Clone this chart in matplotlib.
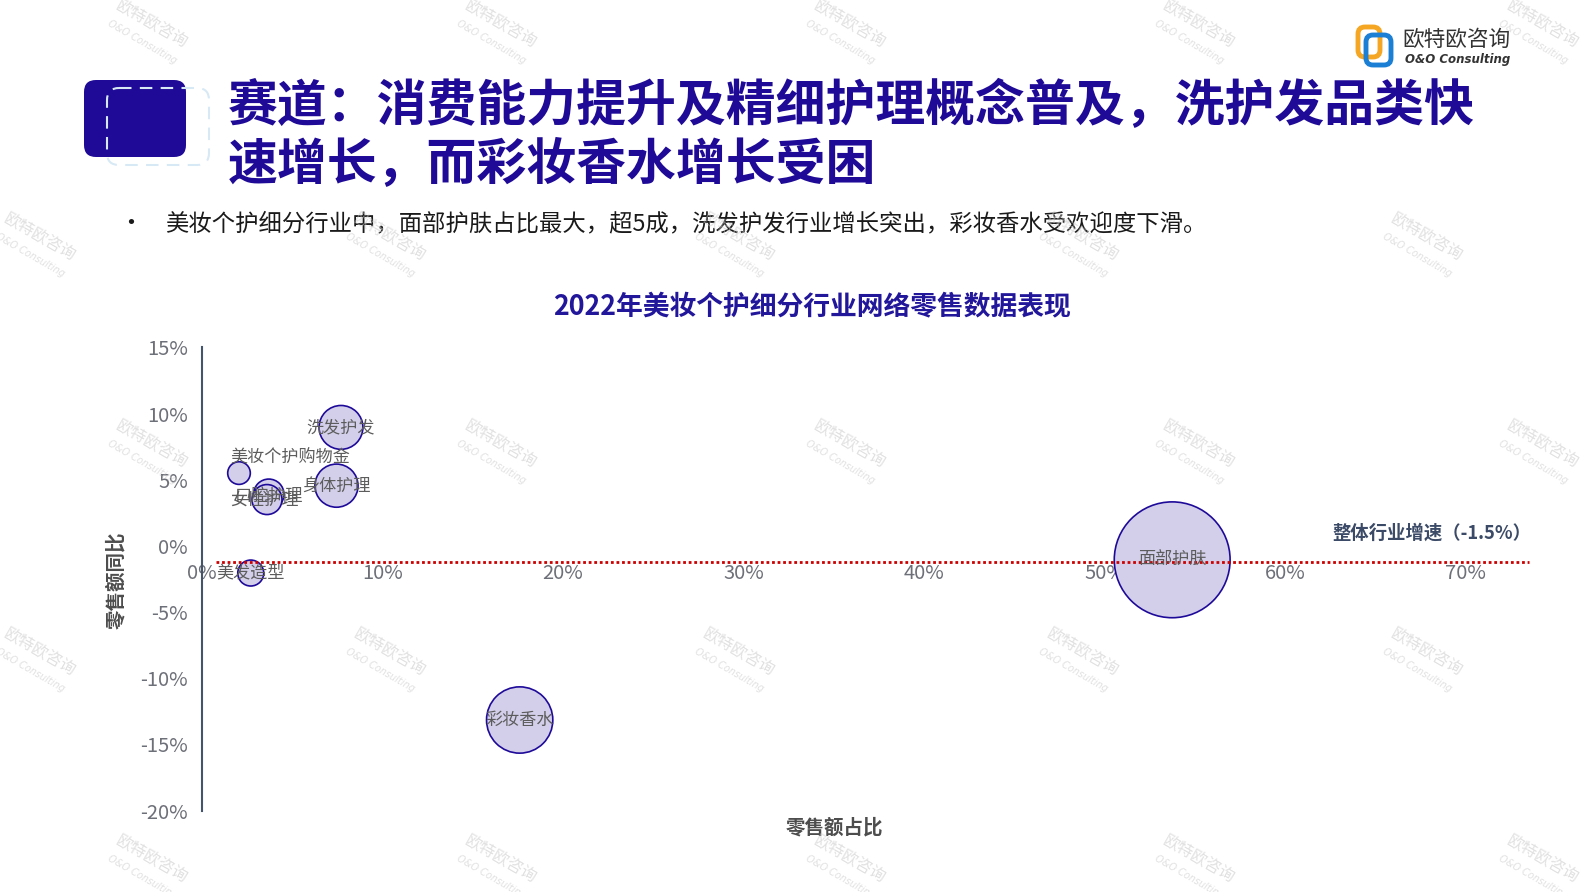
import numpy as np
import matplotlib
matplotlib.use('Agg')
import matplotlib.pyplot as plt
from matplotlib.patches import FancyBboxPatch
from matplotlib.ticker import FuncFormatter

plt.rcParams['font.family'] = ['Noto Sans CJK SC', 'DejaVu Sans']

# ---------------- data ----------------
categories = ['面部护肤', '彩妆香水', '洗发护发', '身体护理', '美妆个护购物金', '口腔护理', '女性护理', '美发造型']
share = [53.75, 17.6, 7.7, 7.45, 2.05, 3.7, 3.6, 2.7]        # 零售额占比 (%)
growth = [-1.05, -13.15, 8.95, 4.55, 5.5, 3.9, 3.5, -2.05]  # 零售额同比 (%)
overall_growth = -1.2                                       # 整体行业增速 line position
overall_label = '整体行业增速（-1.5%）'
x_ticks = [0, 10, 20, 30, 40, 50, 60, 70]
y_ticks = [-20, -15, -10, -5, 0, 5, 10, 15]

title = ['赛道：消费能力提升及精细护理概念普及，洗护发品类快', '速增长，而彩妆香水增长受困']
bullet = '美妆个护细分行业中，面部护肤占比最大，超5成，洗发护发行业增长突出，彩妆香水受欢迎度下滑。'
chart_title = '2022年美妆个护细分行业网络零售数据表现'

W, H = 1587, 892
NAVY = '#1e0a96'
fig = plt.figure(figsize=(W / 100, H / 100), dpi=100)


def fx(x):
    return x / W


def fy(y):
    return 1 - y / H


# ---------------- header decoration ----------------
deco = fig.add_axes([0, 0, 1, 1], zorder=0)
deco.set_xlim(0, W)
deco.set_ylim(H, 0)
deco.axis('off')
deco.add_patch(FancyBboxPatch((84 + 12, 80 + 12), 102 - 24, 77 - 24,
                              boxstyle='round,pad=12', fc=NAVY, ec='none'))
deco.add_patch(FancyBboxPatch((107 + 12, 88 + 12), 102 - 24, 77 - 24,
                              boxstyle='round,pad=12', fc='none', ec='#d8e9f6',
                              lw=1.5, ls=(0, (6, 4))))

# logo
deco.add_patch(FancyBboxPatch((1360, 29), 18, 26, boxstyle='round,pad=2,rounding_size=7',
                              fc='none', ec='#f5a623', lw=3.5))
deco.add_patch(FancyBboxPatch((1368, 37), 21, 26, boxstyle='round,pad=2,rounding_size=7',
                              fc='none', ec='#1b7fd6', lw=3.5))
fig.text(fx(1402), fy(40), '欧特欧咨询', fontsize=15.6, color='#333333', va='center')
fig.text(fx(1405), fy(59), 'O&O Consulting', fontsize=8.5, color='#333333', va='center',
         family='DejaVu Sans', style='oblique', weight='bold')

fig.text(fx(228), fy(107), title[0], fontsize=35.9, weight='bold', color=NAVY, va='center')
fig.text(fx(228), fy(165), title[1], fontsize=35.9, weight='bold', color=NAVY, va='center')
fig.text(fx(131), fy(224), '•', fontsize=18, color='#1a1a1a', va='center', ha='center')
fig.text(fx(165), fy(224), bullet, fontsize=16.8, color='#1a1a1a', va='center')

fig.text(fx(812), fy(306), chart_title, fontsize=19.3, weight='bold', color='#22169b',
         ha='center', va='center')

# ---------------- bubble chart ----------------
x_per = 18.05   # px per 1 % on x
y_per = 13.24   # px per 1 % on y
x_max = 73.5
ax = fig.add_axes([fx(202), fy(810.7), x_max * x_per / W, 35 * y_per / H], zorder=2)
ax.set_xlim(0, x_max)
ax.set_ylim(-20, 15)
ax.patch.set_alpha(0)

for s in ['top', 'right']:
    ax.spines[s].set_visible(False)
ax.spines['left'].set_color('#44546a')
ax.spines['left'].set_linewidth(1.5)
ax.spines['bottom'].set_position(('data', 0))
ax.spines['bottom'].set_visible(False)

ax.set_xticks(x_ticks)
ax.set_yticks(y_ticks)
ax.xaxis.set_major_formatter(FuncFormatter(lambda v, p: f'{v:.0f}%'))
ax.yaxis.set_major_formatter(FuncFormatter(lambda v, p: f'{v:.0f}%'))
ax.tick_params(axis='x', length=0, pad=12.5, labelsize=14.5, labelcolor='#6e7079')
ax.tick_params(axis='y', length=0, pad=10, labelsize=14.5, labelcolor='#6e7079')

# bubble radius in px grows with the square root of the share
radius_px = 7.9 * np.sqrt(np.array(share))
sizes = (2 * radius_px * 0.72) ** 2
ax.scatter(share, growth, s=sizes, c='#d3cfea', edgecolors='#1e0a99', linewidths=1.2,
           zorder=3, clip_on=False)

label_offsets = {'美妆个护购物金': (37, 12), '女性护理': (-2, 0), '口腔护理': (0, -1)}
for name, xv, yv in zip(categories, share, growth):
    ax.annotate(name, (xv, yv), xytext=label_offsets.get(name, (0, 0)),
                textcoords='offset points', ha='center', va='center',
                fontsize=12.3, color='#5c5c5c', zorder=5)

ax.plot([0.75, x_max], [overall_growth, overall_growth], color='#cc0000', lw=2,
        ls=(0, (1, 1)), zorder=4, clip_on=False)
ax.text(x_max + 0.15, overall_growth + 2.2, overall_label, ha='right', va='center',
        fontsize=13.2, weight='bold', color='#3b4a66')

fig.text(fx(116), fy(580), '零售额同比', rotation=90, fontsize=14, weight='bold',
         color='#4d4d4d', ha='center', va='center')
fig.text(fx(834), fy(828), '零售额占比', fontsize=14, weight='bold',
         color='#4d4d4d', ha='center', va='center')

# ---------------- watermark ----------------
rows_y = [25, 238, 445, 653, 860]
cols_odd = [152, 501, 850, 1199, 1543]
cols_even = [40, 390, 739, 1083, 1427]
nx, ny = -0.5 * 20, 0.866 * 20   # offset of the second line, perpendicular to the text
for i, yy in enumerate(rows_y):
    for xx in (cols_odd if i % 2 == 0 else cols_even):
        fig.text(fx(xx), fy(yy), '欧特欧咨询', rotation=-30, rotation_mode='anchor',
                 fontsize=11.5, color='#c8c8c8', alpha=0.55, ha='center', va='center',
                 zorder=10)
        fig.text(fx(xx + nx), fy(yy + ny), 'O&O Consulting', rotation=-30,
                 rotation_mode='anchor', fontsize=7, color='#c8c8c8', alpha=0.55,
                 ha='center', va='center', family='DejaVu Sans', style='oblique', zorder=10)

fig.savefig('out.png', dpi=100)
